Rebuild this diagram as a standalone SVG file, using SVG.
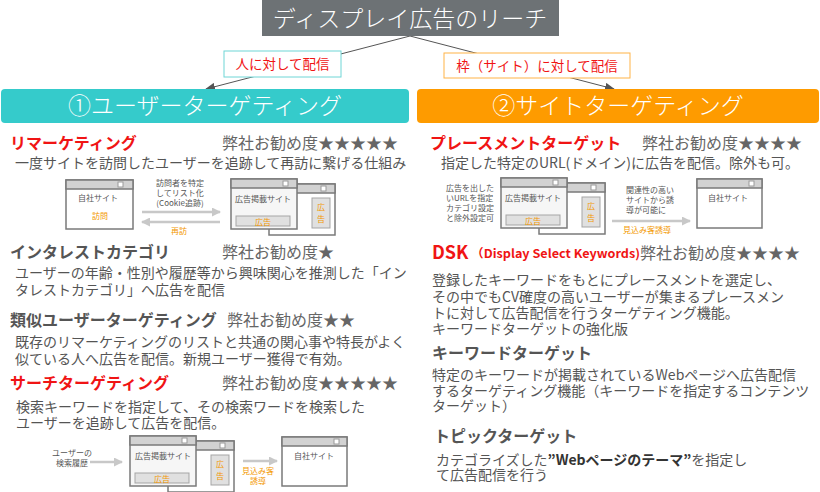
<svg xmlns="http://www.w3.org/2000/svg" width="820" height="492" viewBox="0 0 820 492">
<style>
text{font-family:"Noto Sans CJK JP","Noto Sans",sans-serif;}
.b{font-size:14px;fill:#555;}
.h{font-size:16px;font-weight:700;fill:#555;}
.r{font-size:16px;font-weight:700;fill:#f01414;}
.rec{font-size:16px;fill:#666;}
.s{font-size:8px;fill:#555;}
.so{font-size:8px;fill:#f39800;}
.big{font-size:23px;fill:#fff;font-weight:300;}
.win{fill:#fff;stroke:#7a7a7a;stroke-width:1.5;}
.winf{fill:#f6f6f6;stroke:#7a7a7a;stroke-width:1.5;}
.bar{fill:#d2d2d2;stroke:#7a7a7a;stroke-width:1.5;}
.ico{fill:#fff;stroke:#9a9a9a;stroke-width:1;}
.ad{fill:#e0e0e0;stroke:#a5a5a5;stroke-width:1;}
.ga{stroke:#c8c8c8;stroke-width:2.5;fill:none;}
.conn{stroke:#555;stroke-width:1;fill:none;}
</style>
<defs>
<marker id="ah" markerWidth="10" markerHeight="8" refX="9" refY="4" orient="auto" markerUnits="userSpaceOnUse">
<path d="M0,0 L10,4 L0,8 Z" fill="#555"/>
</marker>
<marker id="gh" markerWidth="9" markerHeight="9" refX="8" refY="4.5" orient="auto" markerUnits="userSpaceOnUse">
<path d="M0,0 L9,4.5 L0,9 Z" fill="#c8c8c8"/>
</marker>
</defs>

<g id="connectors">
<line class="conn" x1="410" y1="36" x2="206" y2="89" marker-end="url(#ah)"/>
<line class="conn" x1="410" y1="36" x2="614" y2="89" marker-end="url(#ah)"/>
</g>

<g id="title">
<rect x="262" y="0" width="297" height="36" fill="#6d7275"/>
<text class="big" x="410" y="27" text-anchor="middle">ディスプレイ広告のリーチ</text>
</g>

<g id="label-left">
<rect x="224" y="51" width="117" height="26" fill="#fff" stroke="#6fd6d6" stroke-width="1"/>
<text x="282.5" y="69" font-size="13.5" fill="#f01414" text-anchor="middle">人に対して配信</text>
</g>
<g id="label-right">
<rect x="444" y="53" width="186" height="25" fill="#fff" stroke="#ffb347" stroke-width="1"/>
<text x="537" y="71" font-size="13.5" fill="#f01414" text-anchor="middle">枠（サイト）に対して配信</text>
</g>

<g id="header-user">
<rect x="1" y="89" width="408" height="34" rx="4" fill="#35cbcb"/>
<text class="big" x="205" y="114" text-anchor="middle">①ユーザーターゲティング</text>
</g>
<g id="header-site">
<rect x="417" y="89" width="402" height="34" rx="4" fill="#fe9b00"/>
<text class="big" x="618" y="114" text-anchor="middle">②サイトターゲティング</text>
</g>

<g id="remarketing">
<text class="r" x="10" y="149">リマーケティング</text>
<text class="rec" x="222" y="149">弊社お勧め度★★★★★</text>
<text class="b" x="15" y="168">一度サイトを訪問したユーザーを追跡して再訪に繋げる仕組み</text>
<rect class="win" x="66" y="180" width="67" height="49"/>
<rect class="bar" x="66" y="180" width="67" height="9"/>
<rect class="ico" x="118" y="182" width="5" height="5"/>
<text class="s" x="78" y="201" font-size="9">自社サイト</text>
<text class="so" x="92" y="219">訪問</text>
<text class="s" x="180" y="186" text-anchor="middle">訪問者を特定</text>
<text class="s" x="180" y="196" text-anchor="middle">してリスト化</text>
<text class="s" x="180" y="206" text-anchor="middle">(Cookie追跡)</text>
<line class="ga" x1="142" y1="212" x2="220" y2="212" marker-end="url(#gh)"/>
<line class="ga" x1="220" y1="222" x2="142" y2="222" marker-end="url(#gh)"/>
<text class="so" x="171" y="234">再訪</text>
<rect class="win" x="269" y="184" width="66" height="51"/>
<rect class="bar" x="269" y="184" width="66" height="9"/>
<rect class="ico" x="321" y="186" width="5" height="5"/>
<rect class="ad" x="312" y="198" width="18" height="30"/>
<text class="so" x="321" y="210" font-size="10" text-anchor="middle">広</text>
<text class="so" x="321" y="222" font-size="10" text-anchor="middle">告</text>
<rect class="winf" x="231" y="179" width="66" height="50"/>
<rect class="bar" x="231" y="179" width="66" height="9"/>
<rect class="ico" x="283" y="181" width="5" height="5"/>
<text class="s" x="235" y="202" font-size="9">広告掲載サイト</text>
<rect class="ad" x="236" y="216" width="54" height="10"/>
<text class="so" x="263" y="225" font-size="9" text-anchor="middle">広告</text>
</g>

<g id="interest">
<text class="h" x="10" y="258">インタレストカテゴリ</text>
<text class="rec" x="222" y="258">弊社お勧め度★</text>
<text class="b" x="15" y="278">ユーザーの年齢・性別や履歴等から興味関心を推測した「イン</text>
<text class="b" x="15" y="295">タレストカテゴリ」へ広告を配信</text>
</g>

<g id="similar">
<text class="h" x="10" y="326">類似ユーザーターゲティング</text>
<text class="rec" x="227" y="326">弊社お勧め度★★</text>
<text class="b" x="15" y="347">既存のリマーケティングのリストと共通の関心事や特長がよく</text>
<text class="b" x="15" y="364">似ている人へ広告を配信。新規ユーザー獲得で有効。</text>
</g>

<g id="search">
<text class="r" x="10" y="389">サーチターゲティング</text>
<text class="rec" x="222" y="389">弊社お勧め度★★★★★</text>
<text class="b" x="16" y="412">検索キーワードを指定して、その検索ワードを検索した</text>
<text class="b" x="16" y="428">ユーザーを追跡して広告を配信。</text>
<text class="s" x="72" y="456" text-anchor="middle">ユーザーの</text>
<text class="s" x="72" y="466" text-anchor="middle">検索履歴</text>
<line class="ga" x1="90" y1="462" x2="122" y2="462" marker-end="url(#gh)"/>
<rect class="win" x="168" y="441" width="66" height="51"/>
<rect class="bar" x="168" y="441" width="66" height="9"/>
<rect class="ico" x="220" y="443" width="5" height="5"/>
<rect class="ad" x="211" y="455" width="18" height="30"/>
<text class="so" x="220" y="467" font-size="10" text-anchor="middle">広</text>
<text class="so" x="220" y="479" font-size="10" text-anchor="middle">告</text>
<rect class="winf" x="130" y="436" width="66" height="50"/>
<rect class="bar" x="130" y="436" width="66" height="9"/>
<rect class="ico" x="182" y="438" width="5" height="5"/>
<text class="s" x="135" y="459" font-size="9">広告掲載サイト</text>
<rect class="ad" x="135" y="473" width="54" height="10"/>
<text class="so" x="162" y="482" font-size="9" text-anchor="middle">広告</text>
<line class="ga" x1="243" y1="461" x2="277" y2="461" marker-end="url(#gh)"/>
<text class="so" x="258" y="474" text-anchor="middle">見込み客</text>
<text class="so" x="258" y="484" text-anchor="middle">誘導</text>
<rect class="win" x="282" y="437" width="65" height="49"/>
<rect class="bar" x="282" y="437" width="65" height="9"/>
<rect class="ico" x="334" y="439" width="5" height="5"/>
<text class="s" x="294" y="459" font-size="9">自社サイト</text>
</g>

<g id="placement">
<text class="r" x="430" y="149">プレースメントターゲット</text>
<text class="rec" x="642" y="149">弊社お勧め度★★★★</text>
<text class="b" x="441" y="168">指定した特定のURL(ドメイン)に広告を配信。除外も可。</text>
<text class="s" x="446" y="191">広告を出した</text>
<text class="s" x="446" y="201">いURLを指定</text>
<text class="s" x="446" y="211">カテゴリ設定</text>
<text class="s" x="446" y="221">と除外設定可</text>
<rect class="win" x="539" y="183" width="66" height="51"/>
<rect class="bar" x="539" y="183" width="66" height="9"/>
<rect class="ico" x="591" y="185" width="5" height="5"/>
<rect class="ad" x="582" y="197" width="18" height="30"/>
<text class="so" x="591" y="209" font-size="10" text-anchor="middle">広</text>
<text class="so" x="591" y="221" font-size="10" text-anchor="middle">告</text>
<rect class="winf" x="501" y="178" width="66" height="50"/>
<rect class="bar" x="501" y="178" width="66" height="9"/>
<rect class="ico" x="553" y="180" width="5" height="5"/>
<text class="s" x="505" y="201" font-size="9">広告掲載サイト</text>
<rect class="ad" x="506" y="215" width="54" height="10"/>
<text class="so" x="533" y="224" font-size="9" text-anchor="middle">広告</text>
<text class="s" x="626" y="193">関連性の高い</text>
<text class="s" x="626" y="203">サイトから誘</text>
<text class="s" x="626" y="213">導が可能に</text>
<line class="ga" x1="612" y1="221" x2="690" y2="221" marker-end="url(#gh)"/>
<text class="so" x="623" y="233">見込み客誘導</text>
<rect class="win" x="697" y="179" width="65" height="49"/>
<rect class="bar" x="697" y="179" width="65" height="9"/>
<rect class="ico" x="749" y="181" width="5" height="5"/>
<text class="s" x="708" y="201" font-size="9">自社サイト</text>
</g>

<g id="dsk">
<text x="432" y="259" font-size="18" font-weight="700" fill="#f01414">DSK</text>
<text x="471" y="258" font-size="12" font-weight="700" fill="#f01414" textLength="169" lengthAdjust="spacingAndGlyphs">（Display Select Keywords)</text>
<text class="rec" x="640" y="259">弊社お勧め度★★★★</text>
<text class="b" x="432" y="285">登録したキーワードをもとにプレースメントを選定し、</text>
<text class="b" x="432" y="302">その中でもCV確度の高いユーザーが集まるプレースメン</text>
<text class="b" x="432" y="318">トに対して広告配信を行うターゲティング機能。</text>
<text class="b" x="432" y="334">キーワードターゲットの強化版</text>
</g>

<g id="keyword">
<text class="h" x="432" y="359">キーワードターゲット</text>
<text class="b" x="432" y="380">特定のキーワードが掲載されているWebページへ広告配信</text>
<text class="b" x="432" y="396">するターゲティング機能（キーワードを指定するコンテンツ</text>
<text class="b" x="432" y="411">ターゲット）</text>
</g>

<g id="topic">
<text class="h" x="434" y="442">トピックターゲット</text>
<text class="b" x="436" y="465">カテゴライズした<tspan font-weight="700" fill="#333">”Webページのテーマ”</tspan>を指定し</text>
<text class="b" x="436" y="480">て広告配信を行う</text>
</g>
</svg>
